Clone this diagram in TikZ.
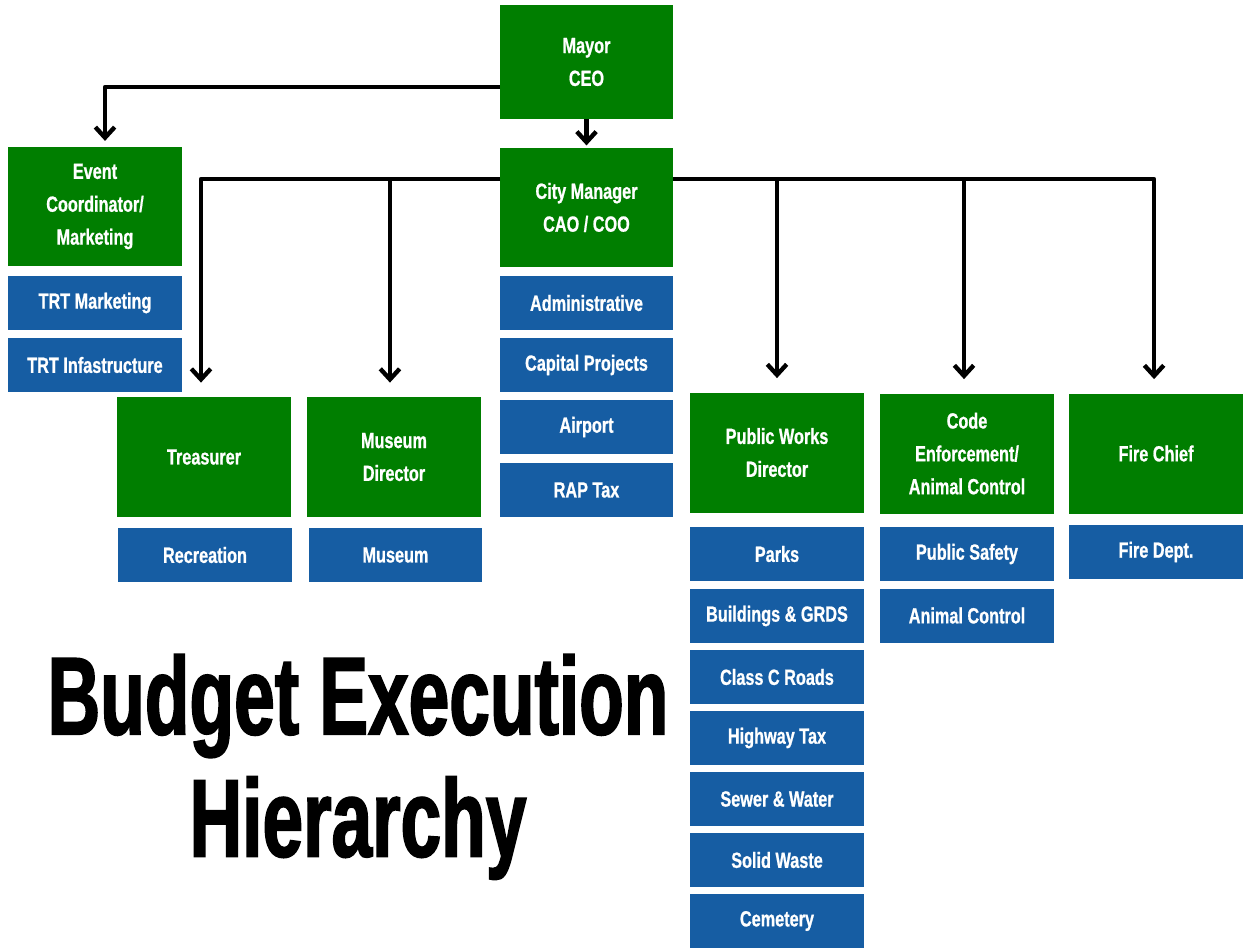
\documentclass[tikz,border=0pt]{standalone}
\usepackage{fontspec}
\usetikzlibrary{arrows.meta}
\newfontfamily\boxfont[FakeStretch=0.74,FakeBold=0.8]{Liberation Sans Bold}
\newfontfamily\titlefont[FakeStretch=0.66,FakeBold=1.5]{Liberation Sans Bold}
\definecolor{orggreen}{RGB}{0,126,0}
\definecolor{orgblue}{RGB}{22,93,163}

\tikzset{
  unit/.style={draw=none, text=white, inner sep=0pt, align=center,
    minimum width=3.48cm, font=\boxfont\fontsize{12.5}{18.7}\selectfont},
  head/.style={unit, fill=orggreen, minimum height=2.4cm},
  fund/.style={unit, fill=orgblue, minimum height=1.08cm},
  wire/.style={line width=2.5pt, line join=round},
  down/.style={wire, -{Straight Barb[length=6pt,width=11pt]}, shorten >=8pt}
}

\begin{document}
\begin{tikzpicture}[x=0.02cm,y=-0.02cm]
\useasboundingbox (0,0) rectangle (1244,948);

% top of the tree
\node[head, minimum height=2.28cm] (mayor) at (586.5,62) {Mayor\\CEO};
\node[head] (city) at (586.5,207.5) {City Manager\\CAO / COO};
\node[head] (event) at (95,206.5) {Event\\Coordinator/\\Marketing};

% second row of heads
\node[head] (treas) at (204,457) {Treasurer};
\node[head] (mdir) at (394,457) {Museum\\Director};
\node[head] (pwd) at (777,452.5) {Public Works\\Director};
\node[head] (code) at (967,453.5) {Code\\Enforcement/\\Animal Control};
\node[head] (fire) at (1156,453.5) {Fire Chief};

% funds under each head
\node[fund] (trtm) at (95,303) {TRT Marketing};
\node[fund] (trti) at (95,365) {TRT Infastructure};
\node[fund] (admin) at (586.5,303) {Administrative};
\node[fund] (capital) at (586.5,365) {Capital Projects};
\node[fund] (airport) at (586.5,427) {Airport};
\node[fund] (rap) at (586.5,490) {RAP Tax};
\node[fund] (recr) at (205,555) {Recreation};
\node[fund] (museum) at (395.5,555) {Museum};
\node[fund] (parks) at (777,554) {Parks};
\node[fund] (bldg) at (777,616) {Buildings \& GRDS};
\node[fund] (roads) at (777,677) {Class C Roads};
\node[fund] (hwy) at (777,738) {Highway Tax};
\node[fund] (sewer) at (777,799) {Sewer \& Water};
\node[fund] (waste) at (777,860) {Solid Waste};
\node[fund] (cem) at (777,921) {Cemetery};
\node[fund] (safety) at (967,554) {Public Safety};
\node[fund] (animal) at (967,615.5) {Animal Control};
\node[fund] (firedept) at (1156,552) {Fire Dept.};

% connectors
\coordinate (ml) at (500,87);
\coordinate (cl) at (500,179);
\coordinate (cr) at (673,179);
\draw[down, shorten >=3pt] (ml) -| ([xshift=5.7pt]event.north);
\draw[down, shorten >=1pt] (mayor) -- (city);
\draw[down] (cl) -| ([xshift=-1.7pt]treas.north);
\draw[down] (cl) -| ([xshift=-2.3pt]mdir.north);
\draw[down] (cr) -| (pwd.north);
\draw[down] (cr) -| ([xshift=-1.7pt]code.north);
\draw[down] (cr) -| ([xshift=-1.1pt]fire.north);

% title
\node[font=\titlefont\fontsize{63}{63}\selectfont] (title1) at (358,706) {Budget Execution};
\node[font=\titlefont\fontsize{63}{63}\selectfont] (title2) at (358,828) {Hierarchy};
\end{tikzpicture}
\end{document}
